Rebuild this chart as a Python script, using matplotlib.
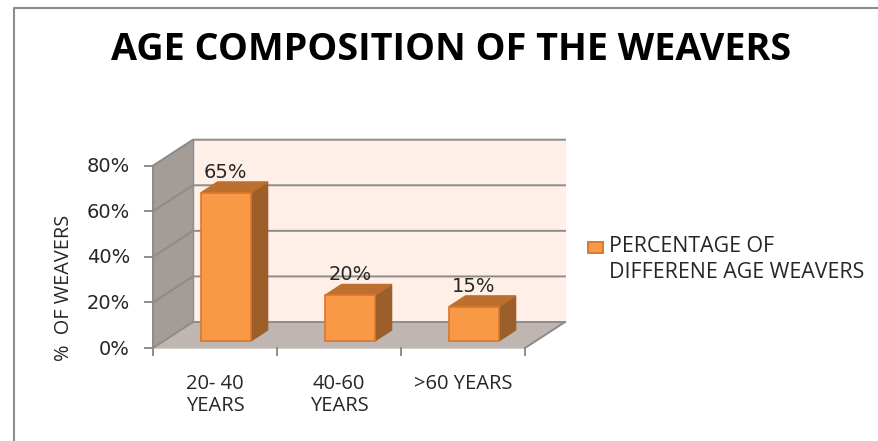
import matplotlib
matplotlib.use("Agg")
import matplotlib.pyplot as plt
from matplotlib.lines import Line2D
from matplotlib.patches import Polygon, Rectangle

plt.rcParams['font.family'] = ['Open Sans', 'DejaVu Sans']

categories = ["20- 40\nYEARS", "40-60\nYEARS", ">60 YEARS"]
values = [65, 20, 15]
value_labels = ["65%", "20%", "15%"]
y_ticks = [0, 20, 40, 60, 80]
y_tick_labels = ["0%", "20%", "40%", "60%", "80%"]

W, H = 879, 441
# oblique depth of the fake 3d box, in data units
DEPTH_X = 40 / 124
DEPTH_Y = 26 / (182.3 / 80)
BAR_W = 0.403
BAR_D0 = 0.27
BAR_D1 = 0.69

C_WALL = "#FFEFE7"
C_SIDE = "#A39C97"
C_FLOOR = "#BFB5B1"
C_GRID = "#8C8C8C"
C_FRONT = "#F99845"
C_EDGE = "#D9782F"
C_TOP = "#BC6F2E"
C_RIGHT = "#9C5F29"
C_TEXT = "#262626"


def pr(x, y, d=0.0):
    return (x + d * DEPTH_X, y + d * DEPTH_Y)


def poly(ax, pts, color, edge=None, z=1, lw=1.0):
    ax.add_patch(Polygon(pts, closed=True, facecolor=color, edgecolor=edge or color,
                         linewidth=lw, zorder=z, clip_on=False))


fig = plt.figure(figsize=(W / 100, H / 100), dpi=100, facecolor="white")
ax = fig.add_axes([153 / W, 1 - 348 / H, 372 / W, 182.3 / H])
ax.set_xlim(0, 3)
ax.set_ylim(0, 80)
ax.axis("off")

# walls and floor
poly(ax, [pr(0, 0, 1), pr(3, 0, 1), pr(3, 80, 1), pr(0, 80, 1)], C_WALL)
poly(ax, [pr(0, 0), pr(0, 0, 1), pr(0, 80, 1), pr(0, 80)], C_SIDE)
poly(ax, [pr(0, 0), pr(3, 0), pr(3, 0, 1), pr(0, 0, 1)], C_FLOOR)

# gridlines, wrap round the side wall
for t, lab in zip(y_ticks, y_tick_labels):
    xs, ys = zip(pr(0, t), pr(0, t, 1), pr(3, t, 1))
    ax.plot(xs, ys, color=C_GRID, lw=1.4, zorder=2, clip_on=False,
            solid_joinstyle="miter")
    ax.plot([-0.065, 0], [t, t], color=C_GRID, lw=1.4, zorder=2, clip_on=False)
    ax.text(-0.185, t - 0.5, lab, ha="right", va="center", fontsize=14,
            family="DejaVu Sans", color=C_TEXT)

# axis lines
ax.plot([0, 0], [0, 80], color=C_GRID, lw=1.4, zorder=2, clip_on=False)
ax.plot(*zip(pr(0, 80, 1), pr(0, 0, 1)), color=C_GRID, lw=1.0, zorder=2, clip_on=False)
ax.plot(*zip(pr(3, 0), pr(3, 0, 1)), color=C_GRID, lw=1.4, zorder=2, clip_on=False)
for i in range(4):
    ax.plot([i, i], [0, -3], color=C_GRID, lw=1.4, zorder=2, clip_on=False)

# bars
for i, v in enumerate(values):
    x0 = i + 0.5 - BAR_W / 2
    x1 = i + 0.5 + BAR_W / 2
    poly(ax, [pr(x1, 0, BAR_D0), pr(x1, 0, BAR_D1), pr(x1, v, BAR_D1), pr(x1, v, BAR_D0)],
         C_RIGHT, z=3)
    poly(ax, [pr(x0, v, BAR_D0), pr(x1, v, BAR_D0), pr(x1, v, BAR_D1), pr(x0, v, BAR_D1)],
         C_TOP, z=3)
    poly(ax, [pr(x0, 0, BAR_D0), pr(x1, 0, BAR_D0), pr(x1, v, BAR_D0), pr(x0, v, BAR_D0)],
         C_FRONT, edge=C_EDGE, z=4, lw=1.2)
    lx = pr(i + 0.5, v, BAR_D0)[0]
    ly = pr(i + 0.5, v, BAR_D1)[1]
    ax.text(lx, ly + 4.2, value_labels[i], ha="center", va="center", fontsize=14,
            family="DejaVu Sans", color=C_TEXT, zorder=5)
    ax.text(i + 0.5, -11.3, categories[i], ha="center", va="top", fontsize=14.5,
            color=C_TEXT, linespacing=1.15)

fig.text(64 / W, 1 - 288 / H, "%  OF WEAVERS", rotation=90, ha="center", va="center",
         fontsize=14.3, color=C_TEXT)
fig.text(451 / W, 1 - 50 / H, "AGE COMPOSITION OF THE WEAVERS", ha="center", va="center",
         fontsize=27.2, fontweight="bold", color="black")

# legend
fig.add_artist(Rectangle((588 / W, 1 - 253 / H), 15 / W, 11 / H, transform=fig.transFigure,
                         facecolor=C_FRONT, edgecolor=C_EDGE, linewidth=1.4))
fig.text(609 / W, 1 - 247 / H, "PERCENTAGE OF", ha="left", va="center", fontsize=15.4,
         color=C_TEXT)
fig.text(609 / W, 1 - 272 / H, "DIFFERENE AGE WEAVERS", ha="left", va="center", fontsize=15.4,
         color=C_TEXT)

# outer chart border, cropped at the right and bottom of the picture
fig.add_artist(Line2D([14 / W, 14 / W, 1], [0, 1 - 8 / H, 1 - 8 / H],
                      color="#8C8C8C", lw=1.5, transform=fig.transFigure))

fig.savefig("out.png", dpi=100)
